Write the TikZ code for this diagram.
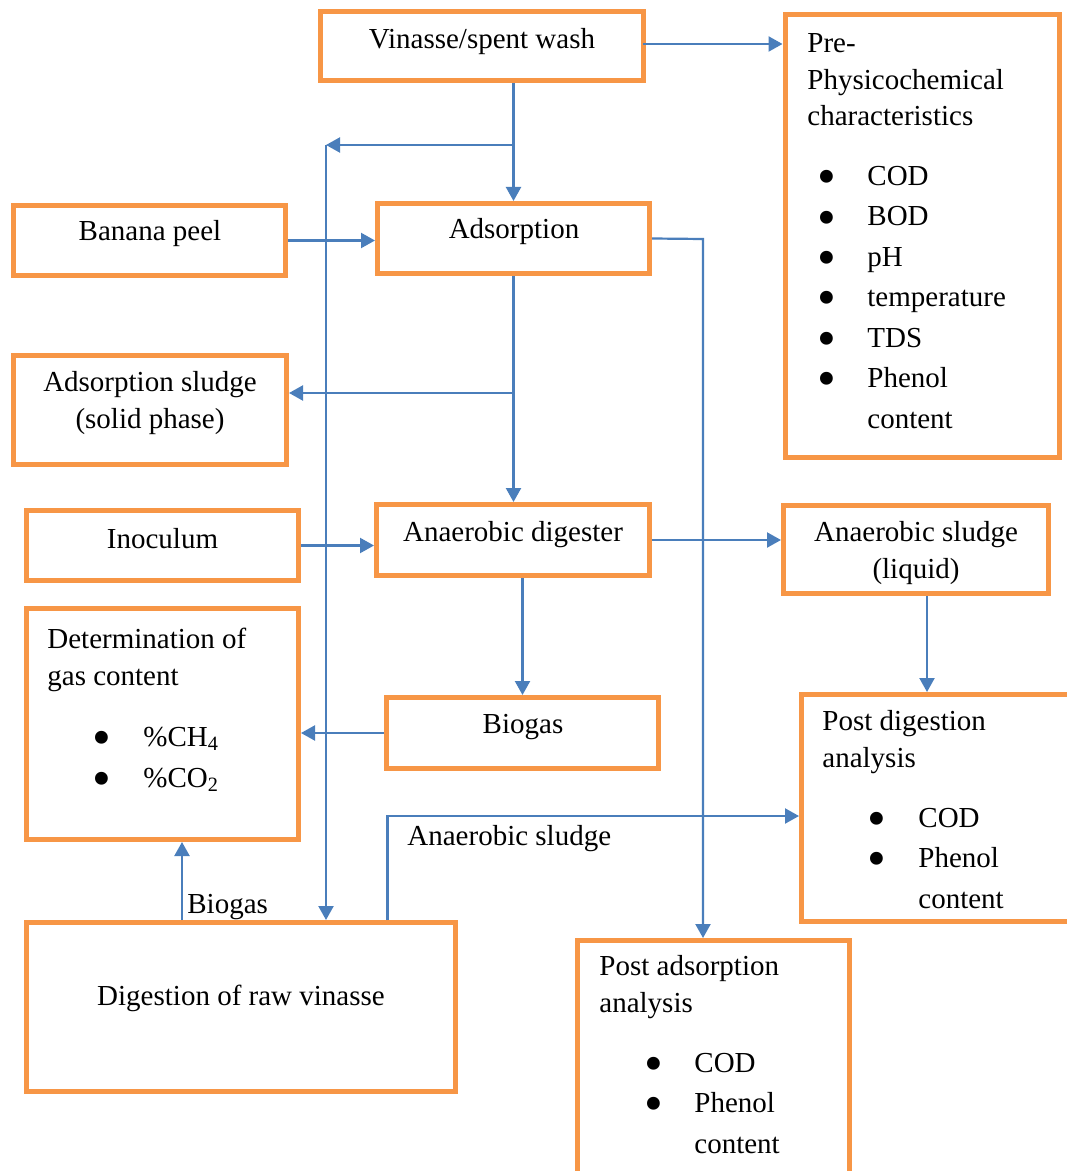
\documentclass[tikz,border=0pt]{standalone}
\usepackage{fontspec}
\setmainfont{Liberation Serif}
\usetikzlibrary{arrows.meta,calc}
\definecolor{boxor}{HTML}{F79646}
\definecolor{lnblue}{HTML}{4A7EBB}
\newcommand{\bigbul}{\smash{\raisebox{-4.6pt}{\scalebox{1.85}{\textbullet}}}}
\newcommand{\bitem}[3]{\hspace*{#1}\makebox[0pt]{\bigbul}\hspace*{#2}#3}
\begin{document}
\begin{tikzpicture}[x=0.5pt,y=-0.5pt,
  box/.style={draw=boxor,line width=2.5pt,inner sep=0pt,rectangle},
  txt/.style={inner sep=0pt,font=\fontsize{14.5}{18.2}\selectfont},
  arr/.style={draw=lnblue,line width=1.1pt,-{Triangle[length=7pt,width=7.5pt]}},
  ln/.style={draw=lnblue,line width=1.1pt}]
\useasboundingbox (0,0) rectangle (1066,1171);
% boxes
\node[box,minimum width=161.5pt,minimum height=34.5pt] (vin) at (482,46) {};
\node[box,minimum width=137pt,minimum height=221pt] (pre) at (922,236) {};
\node[box,minimum width=136pt,minimum height=35pt] (ban) at (149.5,240.5) {};
\node[box,minimum width=136pt,minimum height=35pt] (ads) at (513.5,238.5) {};
\node[box,minimum width=136.5pt,minimum height=54.5pt] (asl) at (150,410) {};
\node[box,minimum width=136pt,minimum height=35pt] (ino) at (162.5,545.5) {};
\node[box,minimum width=136.5pt,minimum height=35.5pt] (dige) at (513,540) {};
\node[box,minimum width=132.5pt,minimum height=44pt] (lsl) at (916,549.5) {};
\node[box,minimum width=136pt,minimum height=115.5pt] (det) at (162.5,724) {};
\node[box,minimum width=136pt,minimum height=35.5pt] (bio) at (522.5,733) {};
\node[box,minimum width=139.25pt,minimum height=113.5pt] (pd) at (940.75,808) {};
\node[box,minimum width=214.5pt,minimum height=84.5pt] (raw) at (241,1007) {};
\node[box,minimum width=136pt,minimum height=122.25pt] (pa) at (713.5,1062.75) {};
% texts (multi-line nodes anchored at the baseline of their last line)
\node[txt,anchor=base] (vint) at (482,48.3) {Vinasse/spent wash};
\node[txt,anchor=base west,align=left] (pret) at (807,428) {Pre-\\Physicochemical\\characteristics\\[11.8pt]%
\bitem{9.5pt}{20.5pt}{COD}\\[2pt]\bitem{9.5pt}{20.5pt}{BOD}\\[2pt]\bitem{9.5pt}{20.5pt}{pH}\\[2pt]%
\bitem{9.5pt}{20.5pt}{temperature}\\[2pt]\bitem{9.5pt}{20.5pt}{TDS}\\[2pt]\bitem{9.5pt}{20.5pt}{Phenol}\\[2pt]%
\hspace*{30pt}content};
\node[txt,anchor=base] (bant) at (150,241) {Banana peel};
\node[txt,anchor=base] (adst) at (514,239) {Adsorption};
\node[txt,anchor=base,align=center] (aslt) at (150,428) {Adsorption sludge\\(solid phase)};
\node[txt,anchor=base] (inot) at (162.5,548) {Inoculum};
\node[txt,anchor=base] (diget) at (513,541.7) {Anaerobic digester};
\node[txt,anchor=base,align=center] (lslt) at (916,578) {Anaerobic sludge\\(liquid)};
\node[txt,anchor=base west,align=left] (dett) at (47,787) {Determination of\\gas content\\[12.3pt]%
\bitem{27pt}{21pt}{\%CH\textsubscript{4}}\\[2.3pt]\bitem{27pt}{21pt}{\%CO\textsubscript{2}}};
\node[txt,anchor=base] (biot) at (523,733) {Biogas};
\node[txt,anchor=base west,align=left] (pdt) at (822,908) {Post digestion\\analysis\\[11.8pt]%
\bitem{27pt}{21pt}{COD}\\[2pt]\bitem{27pt}{21pt}{Phenol}\\[2pt]\hspace*{48pt}content};
\node[txt,anchor=base] (rawt) at (241,1005) {Digestion of raw vinasse};
\node[txt,anchor=base west,align=left] (pat) at (599,1153) {Post adsorption\\analysis\\[11.8pt]%
\bitem{27pt}{20.5pt}{COD}\\[2pt]\bitem{27pt}{20.5pt}{Phenol}\\[2pt]\hspace*{47.5pt}content};
% connector coordinates
\coordinate (ltop) at (326,145);
\coordinate (b2) at (513.5,393);
\coordinate (c3) at (703,239);
\coordinate (c4) at (387.5,816);
\coordinate (c5) at (182,880);
\coordinate (c6) at (643,44);
% connectors
\draw[arr] (c6) -- (c6 -| pre.west);
\draw[arr] (ads.north |- vin.south) -- (ads.north);
\draw[arr] (ads.north |- ltop) -- (ltop);
\draw[arr] (ltop) -- (ltop |- raw.north);
\draw[arr] (ban.east) -- (ban.east -| ads.west);
\draw[arr] (ads.south) -- (ads.south |- dige.north);
\draw[arr] (b2) -- (b2 -| asl.east);
\draw[arr] (ads.east) -- (c3) -- (c3 |- pa.north);
\draw[arr] (ino.east) -- (ino.east -| dige.west);
\draw[arr] (dige.east) -- (dige.east -| lsl.west);
\draw[arr] (bio.north |- dige.south) -- (bio.north);
\draw[arr] (bio.west) -- (bio.west -| det.east);
\draw[arr] ([xshift=5.5pt]lsl.south) -- ([xshift=5.5pt]lsl.south |- pd.north);
\draw[arr] (c4 |- raw.north) -- (c4) -- (c4 -| pd.west);
\draw[arr] (c5 |- raw.north) -- (c5 |- det.south);
\node[txt,anchor=base west] (lab1) at (407,845) {Anaerobic sludge};
\node[txt,anchor=base west] (lab2) at (187,913) {Biogas};
\end{tikzpicture}
\end{document}
